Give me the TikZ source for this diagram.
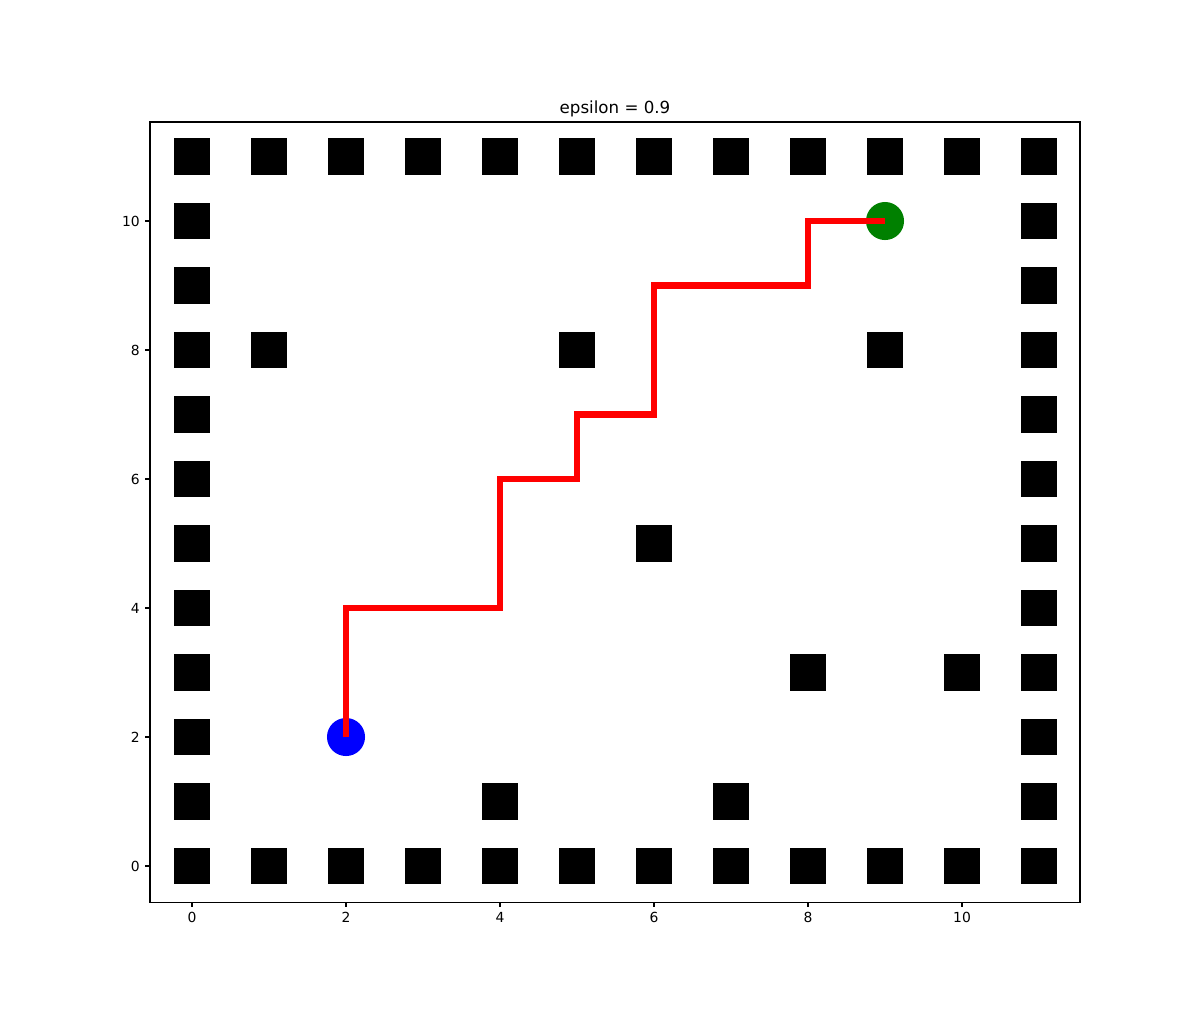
\documentclass[tikz,border=0pt]{standalone}
\usepackage{fontspec}
\setmainfont{DejaVu Sans}
\definecolor{mplgreen}{RGB}{0,128,0}
\tikzset{
  obs/.style={fill=black, draw=none, minimum size=26.2pt, inner sep=0pt, outer sep=0pt},
  agent/.style={circle, draw=none, minimum size=27.4pt, inner sep=0pt},
  ticklbl/.style={font=\fontsize{10}{12}\selectfont, inner sep=0pt},
  tickmark/.style={line width=0.8pt},
  pathline/.style={red, line width=4.8pt, line join=miter, line cap=butt}
}
\begin{document}
\begin{tikzpicture}[x=0.72pt,y=-0.72pt]
\useasboundingbox (0,0) rectangle (1200,1013);
\begin{scope}[shift={(192,866)}, x=55.44pt, y=46.44pt]
  % obstacles: border rows
  \foreach \i in {0,...,11} {
    \node[obs] (b\i) at (\i,0) {};
    \node[obs] (t\i) at (\i,11) {};
  }
  \foreach \j in {1,...,10} {
    \node[obs] (l\j) at (0,\j) {};
    \node[obs] (r\j) at (11,\j) {};
  }
  % interior obstacles
  \foreach \p/\q [count=\k] in {1/8,5/8,9/8,6/5,8/3,10/3,4/1,7/1} {
    \node[obs] (o\k) at (\p,\q) {};
  }
  % start and goal
  \node[agent, fill=blue] (start) at (2,2) {};
  \node[agent, fill=mplgreen] (goal) at (9,10) {};
  % path
  \draw[pathline] (start.center) -- (2,4) -- (4,4) -- (4,6) -- (5,6) -- (5,7)
    -- (6,7) -- (6,9) -- (8,9) -- (8,10) -- (goal.center);
  % axes frame
  \coordinate (ll) at (-0.545,-0.56);
  \coordinate (ur) at (11.532,11.535);
  \draw[line width=0.8pt] (ll) rectangle (ur);
  % ticks
  \foreach \v in {0,2,...,10} {
    \draw[tickmark] (\v,-0.56) -- ++(0,-3.5pt) node[ticklbl, anchor=north, yshift=-3.5pt] (xl\v) {\v};
    \draw[tickmark] (-0.545,\v) -- ++(-3.5pt,0) node[ticklbl, anchor=east, xshift=-3.5pt] (yl\v) {\v};
  }
  % title
  \node[font=\fontsize{12}{14}\selectfont, anchor=base, inner sep=0pt] (title) at ([yshift=6pt]5.4935,11.535) {epsilon = 0.9};
\end{scope}
\end{tikzpicture}
\end{document}
